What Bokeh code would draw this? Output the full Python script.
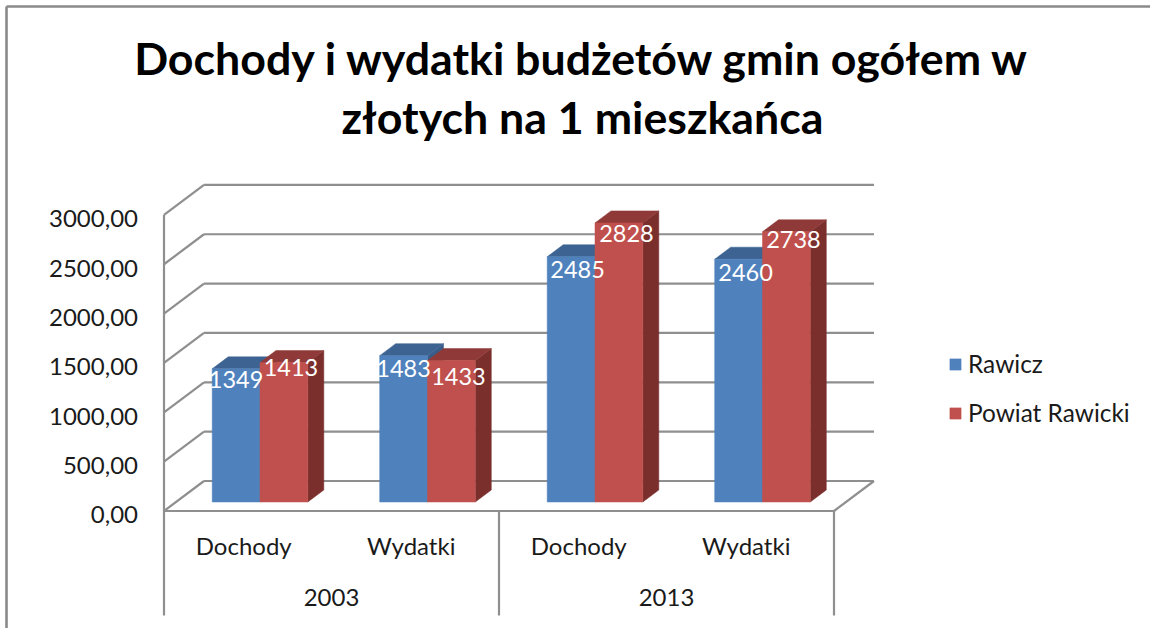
from bokeh.embed import file_html
from bokeh.resources import INLINE
from bokeh.plotting import figure
from bokeh.models import (ColumnDataSource, Range1d, LinearAxis, FixedTicker, Label,
                          Legend, LegendItem)
from bokeh.core.properties import value

# ---- data ----
TITLE = "Dochody i wydatki budżetów gmin ogółem w\nzłotych na 1 mieszkańca"
YEARS = ["2003", "2013"]
CATEGORIES = ["Dochody", "Wydatki", "Dochody", "Wydatki"]
SERIES_NAMES = ["Rawicz", "Powiat Rawicki"]
RAWICZ = [1349, 1483, 2485, 2460]
POWIAT = [1413, 1433, 2828, 2738]
Y_TICKS = [0, 500, 1000, 1500, 2000, 2500, 3000]
Y_TICK_LABELS = ["0,00", "500,00", "1000,00", "1500,00", "2000,00", "2500,00", "3000,00"]

# ---- style / layout ----
W, H = 1150, 628
FONT = "Lato"
PX_X = 167.5            # px per category
PX_Y = 0.0987           # px per value unit
X_LEFT, Y_ZERO = 163.5, 510.5
GRID = "#8f8f8f"
TXT = "#1a1a1a"
BLUE, BLUE_TOP, BLUE_SIDE = "#4f81bd", "#3c6391", "#385d8a"
RED, RED_TOP, RED_SIDE = "#c0504d", "#8f3a38", "#7b2f2d"

WALL_DX, WALL_DY = 40 / PX_X, 30 / PX_Y
BAR_X0, BAR_W = 48.2 / PX_X, 47.8 / PX_X
BAR_LIFT = 9 / PX_Y
BAR_DX, BAR_DY = 16 / PX_X, 12 / PX_Y
TICK_LABEL_NUDGE = 40   # value units: the tick texts sit about 4 px under their wall lines

x_start, x_end = -X_LEFT / PX_X, (W - X_LEFT) / PX_X
y_start, y_end = (Y_ZERO - H) / PX_Y, Y_ZERO / PX_Y

p = figure(width=W, height=H, output_backend="svg", toolbar_location=None,
           x_axis_type=None, y_axis_type=None,
           x_range=Range1d(x_start, x_end), y_range=Range1d(y_start, y_end),
           min_border=0, outline_line_color=None,
           styles={"position": "absolute", "left": "0px", "top": "0px"})
p.grid.visible = False

# outer frame of the picture
fx = x_start + 6 / PX_X
fy = y_end - 6 / PX_Y
p.segment([fx, fx], [fy, fy], [fx, x_end], [y_start, fy], line_color="#8a8a8a", line_width=2.6)

# walls
n = len(CATEGORIES)
p.segment([WALL_DX] * len(Y_TICKS), [v + WALL_DY for v in Y_TICKS],
          [n + WALL_DX] * len(Y_TICKS), [v + WALL_DY for v in Y_TICKS], line_color=GRID, line_width=2.2)
p.segment([0] * len(Y_TICKS), Y_TICKS, [WALL_DX] * len(Y_TICKS), [v + WALL_DY for v in Y_TICKS],
          line_color=GRID, line_width=2.2)
p.segment([n], [0], [n + WALL_DX], [WALL_DY], line_color=GRID, line_width=2.2)

# category axis lines
sep_y1 = (Y_ZERO - 615) / PX_Y
p.segment([0, n / 2, n], [0, 0, 0], [0, n / 2, n], [sep_y1] * 3, line_color=GRID, line_width=2.2)
p.segment([0], [0], [n], [0], line_color=GRID, line_width=2.2)

# bars
front = []
for j, (vals, c, ct, cs) in enumerate([(RAWICZ, BLUE, BLUE_TOP, BLUE_SIDE), (POWIAT, RED, RED_TOP, RED_SIDE)]):
    x0 = [i + BAR_X0 + j * BAR_W for i in range(n)]
    x1 = [x + BAR_W for x in x0]
    top = [v + BAR_LIFT for v in vals]
    p.patches([[a, a + BAR_DX, a + BAR_DX, a] for a in x1],
              [[BAR_LIFT, BAR_LIFT + BAR_DY, t + BAR_DY, t] for t in top],
              fill_color=cs, line_color=cs, line_width=0.5)
    p.patches([[a, b, b + BAR_DX, a + BAR_DX] for a, b in zip(x0, x1)],
              [[t, t, t + BAR_DY, t + BAR_DY] for t in top],
              fill_color=ct, line_color=ct, line_width=0.5)
    front.append(p.quad(left=x0, right=x1, bottom=[BAR_LIFT] * n, top=top,
                        fill_color=c, line_color=c, line_width=0.5))

# data labels (pixel nudges as in the reference)
blue_dx, blue_dy = [0, 0, 6.5, 7], [11, 13, 13, 13]
red_dx, red_dy = [7, 7, 7.5, 7], [4.5, 16, 11, 8]
lx, ly, lt = [], [], []
for j, vals in enumerate([RAWICZ, POWIAT]):
    for i, v in enumerate(vals):
        lx.append(i + BAR_X0 + (j + 0.5) * BAR_W)
        ly.append(v + BAR_LIFT)
        lt.append(str(v))
src = ColumnDataSource(dict(x=lx, y=ly, t=lt, dx=blue_dx + red_dx, dy=blue_dy + red_dy))
p.text("x", "y", text="t", source=src, x_offset="dx", y_offset="dy", text_color="white",
       text_font=value(FONT), text_font_size="23.5px", text_align="center", text_baseline="middle")

# category and year labels
p.text([i + 0.5 for i in range(n)], [0] * n, text=CATEGORIES, x_offset=-4, y_offset=34,
       text_color=TXT, text_font=value(FONT), text_font_size="24px",
       text_align="center", text_baseline="middle")
p.text([n / 4, 3 * n / 4], [0, 0], text=YEARS, y_offset=86,
       text_color=TXT, text_font=value(FONT), text_font_size="24px",
       text_align="center", text_baseline="middle")

# value axis line
p.segment([0], [0], [0], [Y_TICKS[-1]], line_color=GRID, line_width=2.2)

# value axis texts
label_ticks = [v - TICK_LABEL_NUDGE for v in Y_TICKS]
yaxis = LinearAxis(fixed_location=0, ticker=FixedTicker(ticks=label_ticks),
                   major_label_overrides=dict(zip(label_ticks, Y_TICK_LABELS)),
                   major_tick_line_color=None, minor_tick_line_color=None,
                   axis_line_color=None,
                   major_label_standoff=20, major_label_text_font=FONT,
                   major_label_text_font_size="24px", major_label_text_color=TXT)
p.add_layout(yaxis, "left")

# legend
legend = Legend(items=[LegendItem(label=SERIES_NAMES[0], renderers=[front[0]]),
                       LegendItem(label=SERIES_NAMES[1], renderers=[front[1]])],
                location=(948, 201), orientation="vertical", padding=0, margin=0, spacing=20,
                glyph_width=14, glyph_height=14, label_height=24, label_standoff=6,
                label_text_font=FONT, label_text_font_size="24.4px", label_text_color=TXT,
                border_line_color=None, background_fill_alpha=0)
p.add_layout(legend)

# title
p.add_layout(Label(x=582, y=H - 30, x_units="screen", y_units="screen", text=TITLE,
                   text_font=FONT, text_font_style="bold", text_font_size="44.7px",
                   text_color="black", text_align="center", text_baseline="top", text_line_height=1.1))

open("out.html", "w").write(file_html(p, INLINE))
